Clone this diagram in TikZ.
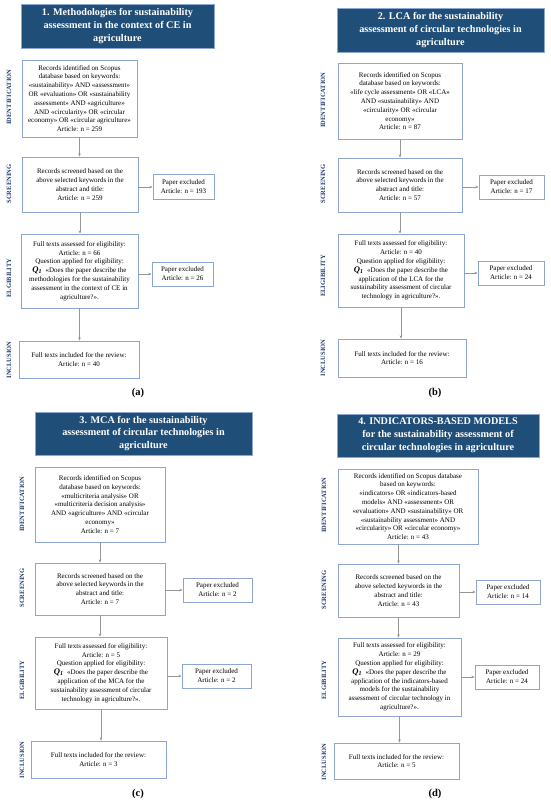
\documentclass[tikz,border=0pt]{standalone}
\usepackage{fontspec}
\setmainfont{Liberation Serif}
\usetikzlibrary{arrows.meta}
\definecolor{titlefill}{RGB}{31,78,121}
\definecolor{boxline}{RGB}{140,165,210}
\definecolor{sidecol}{RGB}{31,56,110}
\definecolor{arrcol}{RGB}{150,150,150}
\newcommand{\Qone}{{\fontsize{8.6}{8.6}\selectfont\bfseries\itshape Q\textsubscript{1}}\ \ }
\tikzset{
  titlebox/.style={fill=titlefill, draw=boxline, line width=0.6pt, text=white, align=center,
    font=\fontsize{10.2}{12.8}\selectfont\bfseries, inner sep=0pt},
  flowbox/.style={draw=boxline, line width=0.8pt, fill=white, align=center,
    font=\fontsize{7.0}{8.8}\selectfont, inner sep=0pt},
  exbox/.style={flowbox},
  sidelab/.style={rotate=90, text=sidecol, font=\fontsize{6.5}{7}\selectfont\bfseries, inner sep=0pt},
  sublab/.style={font=\fontsize{10.5}{11}\selectfont\bfseries, inner sep=0pt},
  arr/.style={draw=arrcol, line width=0.5pt, -{Stealth[length=3.2pt,width=2.6pt]}}
}
\begin{document}
\begin{tikzpicture}[x=1pt,y=-1pt]
\useasboundingbox (0,0) rectangle (550,804);
% ================= Panel (a)
\node[titlebox, minimum width=193, minimum height=44] (at) at (117.5,26) {1. Methodologies for sustainability\\assessment in the context of CE in\\agriculture};
\node[flowbox, minimum width=115, minimum height=77] (aid) at (79.5,98.5) {Records identified on Scopus\\database based on keywords:\\«sustainability» AND «assessment»\\OR «evaluation» OR «sustainability\\assessment» AND «agriculture»\\AND «circularity» OR «circular\\economy» OR «circular agriculture»\\Article: n = 259};
\node[flowbox, minimum width=116, minimum height=55] (asc) at (80,184.5) {Records screened based on the\\above selected keywords in the\\abstract and title:\\Article: n = 259};
\node[exbox, minimum width=61, minimum height=25] (ax1) at (183.5,187) {Paper excluded\\Article: n = 193};
\node[flowbox, minimum width=117, minimum height=74] (ael) at (79.5,271) {Full texts assessed for eligibility:\\Article: n = 66\\Question applied for eligibility:\\\Qone«Does the paper describe the\\methodologies for the sustainability\\assessment in the context of CE in\\agriculture?».};
\node[exbox, minimum width=61, minimum height=24] (ax2) at (182.5,274) {Paper excluded\\Article: n = 26};
\node[flowbox, minimum width=120, minimum height=37] (ain) at (79,359.5) {Full texts included for the review:\\Article: n = 40};
\node[sidelab] (aS1) at (9,97) {IDENTIFICATION};
\node[sidelab] (aS2) at (9,184) {SCREENING};
\node[sidelab] (aS3) at (9,278) {ELGIBILITY};
\node[sidelab] (aS4) at (9,360) {INCLUSION};
\node[sublab] (alab) at (138,393) {(a)};
\draw[arr] (aid.south) -- (aid.south |- asc.north);
\draw[arr] (asc.south) -- (asc.south |- ael.north);
\draw[arr] (ael.south) -- (ael.south |- ain.north);
\draw[arr] (asc.east |- ax1.west) -- (ax1.west);
\draw[arr] (ael.east |- ax2.west) -- (ax2.west);
% ================= Panel (b)
\node[titlebox, minimum width=207, minimum height=44] (bt) at (440.5,30) {2. LCA for the sustainability\\assessment of circular technologies in\\agriculture};
\node[flowbox, minimum width=124, minimum height=76] (bid) at (400,101) {Records identified on Scopus\\database based on keywords:\\«life cycle assessment» OR «LCA»\\AND «sustainability» AND\\«circularity» OR «circular\\economy»\\Article: n = 87};
\node[flowbox, minimum width=124, minimum height=54] (bsc) at (400,185) {Records screened based on the\\above selected keywords in the\\abstract and title:\\Article: n = 57};
\node[exbox, minimum width=65, minimum height=24] (bx1) at (511.5,187) {Paper excluded\\Article: n = 17};
\node[flowbox, minimum width=126, minimum height=73] (bel) at (401,270.5) {Full texts assessed for eligibility:\\Article: n = 40\\Question applied for eligibility:\\\Qone«Does the paper describe the\\application of the LCA for the\\sustainability assessment of circular\\technology in agriculture?».};
\node[exbox, minimum width=66, minimum height=24] (bx2) at (511,273) {Paper excluded\\Article: n = 24};
\node[flowbox, minimum width=128, minimum height=38] (bin) at (402,358) {Full texts included for the review:\\Article: n = 16};
\node[sidelab] (bS1) at (323,100) {IDENTIFICATION};
\node[sidelab] (bS2) at (323,184) {SCREENING};
\node[sidelab] (bS3) at (323,276) {ELIGIBILITY};
\node[sidelab] (bS4) at (323,358) {INCLUSION};
\node[sublab] (blab) at (435,393) {(b)};
\draw[arr] (bid.south) -- (bid.south |- bsc.north);
\draw[arr] (bsc.south) -- (bsc.south |- bel.north);
\draw[arr] (bel.south) -- (bel.south |- bin.north);
\draw[arr] (bsc.east |- bx1.west) -- (bx1.west);
\draw[arr] (bel.east |- bx2.west) -- (bx2.west);
% ================= Panel (c)
\node[titlebox, minimum width=217, minimum height=43] (ct) at (143.5,433.5) {3. MCA for the sustainability\\assessment of circular technologies in\\agriculture};
\node[flowbox, minimum width=130, minimum height=75] (cid) at (100,504.5) {Records identified on Scopus\\database based on keywords:\\«multicriteria analysis» OR\\«multicriteria decision analysis»\\AND «agriculture» AND «circular\\economy»\\Article: n = 7};
\node[flowbox, minimum width=130, minimum height=52] (csc) at (100,589) {Records screened based on the\\above selected keywords in the\\abstract and title:\\Article: n = 7};
\node[exbox, minimum width=69, minimum height=24] (cx1) at (217.5,590) {Paper excluded\\Article: n = 2};
\node[flowbox, minimum width=132, minimum height=72] (cel) at (101,673) {Full texts assessed for eligibility:\\Article: n = 5\\Question applied for eligibility:\\\Qone«Does the paper describe the\\application of the MCA for the\\sustainability assessment of circular\\technology in agriculture?».};
\node[exbox, minimum width=69, minimum height=24] (cx2) at (216.5,676) {Paper excluded\\Article: n = 2};
\node[flowbox, minimum width=135, minimum height=37] (cin) at (98.5,759.5) {Full texts included for the review:\\Article: n = 3};
\node[sidelab] (cS1) at (22,504) {IDENTIFICATION};
\node[sidelab] (cS2) at (22,588) {SCREENING};
\node[sidelab] (cS3) at (22,680) {ELGIBILITY};
\node[sidelab] (cS4) at (22,760) {INCLUSION};
\node[sublab] (clab) at (138,794) {(c)};
\draw[arr] (cid.south) -- (cid.south |- csc.north);
\draw[arr] (csc.south) -- (csc.south |- cel.north);
\draw[arr] (cel.south) -- (cel.south |- cin.north);
\draw[arr] (csc.east |- cx1.west) -- (cx1.west);
\draw[arr] (cel.east |- cx2.west) -- (cx2.west);
% ================= Panel (d)
\node[titlebox, minimum width=202, minimum height=43] (dt) at (438,435.5) {4. INDICATORS-BASED MODELS\\for the sustainability assessment of\\circular technologies in agriculture};
\node[flowbox, minimum width=140, minimum height=75] (did) at (408,506.5) {Records identified on Scopus database\\based on keywords:\\«indicators» OR «indicators-based\\models» AND «assessment» OR\\«evaluation» AND «sustainability» OR\\«sustainability assessment» AND\\«circularity» OR «circular economy»\\Article: n = 43};
\node[flowbox, minimum width=121, minimum height=53] (dsc) at (398.5,590.5) {Records screened based on the\\above selected keywords in the\\abstract and title:\\Article: n = 43};
\node[exbox, minimum width=64, minimum height=24] (dx1) at (508,592) {Paper excluded\\Article: n = 14};
\node[flowbox, minimum width=123, minimum height=78] (del) at (399.5,677) {Full texts assessed for eligibility:\\Article: n = 29\\Question applied for eligibility:\\\Qone«Does the paper describe the\\application of the indicators-based\\models for the sustainability\\assessment of circular technology in\\agriculture?».};
\node[exbox, minimum width=64, minimum height=24] (dx2) at (507,677) {Paper excluded\\Article: n = 24};
\node[flowbox, minimum width=125, minimum height=36] (din) at (396.5,761) {Full texts included for the review:\\Article: n = 5};
\node[sidelab] (dS1) at (324,505) {IDENTIFICATION};
\node[sidelab] (dS2) at (324,590) {SCREENING};
\node[sidelab] (dS3) at (324,680) {ELGIBILITY};
\node[sidelab] (dS4) at (324,762) {INCLUSION};
\node[sublab] (dlab) at (435,794) {(d)};
\draw[arr] (did.south -| dsc.north) -- (dsc.north);
\draw[arr] (dsc.south) -- (dsc.south |- del.north);
\draw[arr] (del.south) -- (del.south |- din.north);
\draw[arr] (dsc.east |- dx1.west) -- (dx1.west);
\draw[arr] (del.east |- dx2.west) -- (dx2.west);
\end{tikzpicture}
\end{document}
